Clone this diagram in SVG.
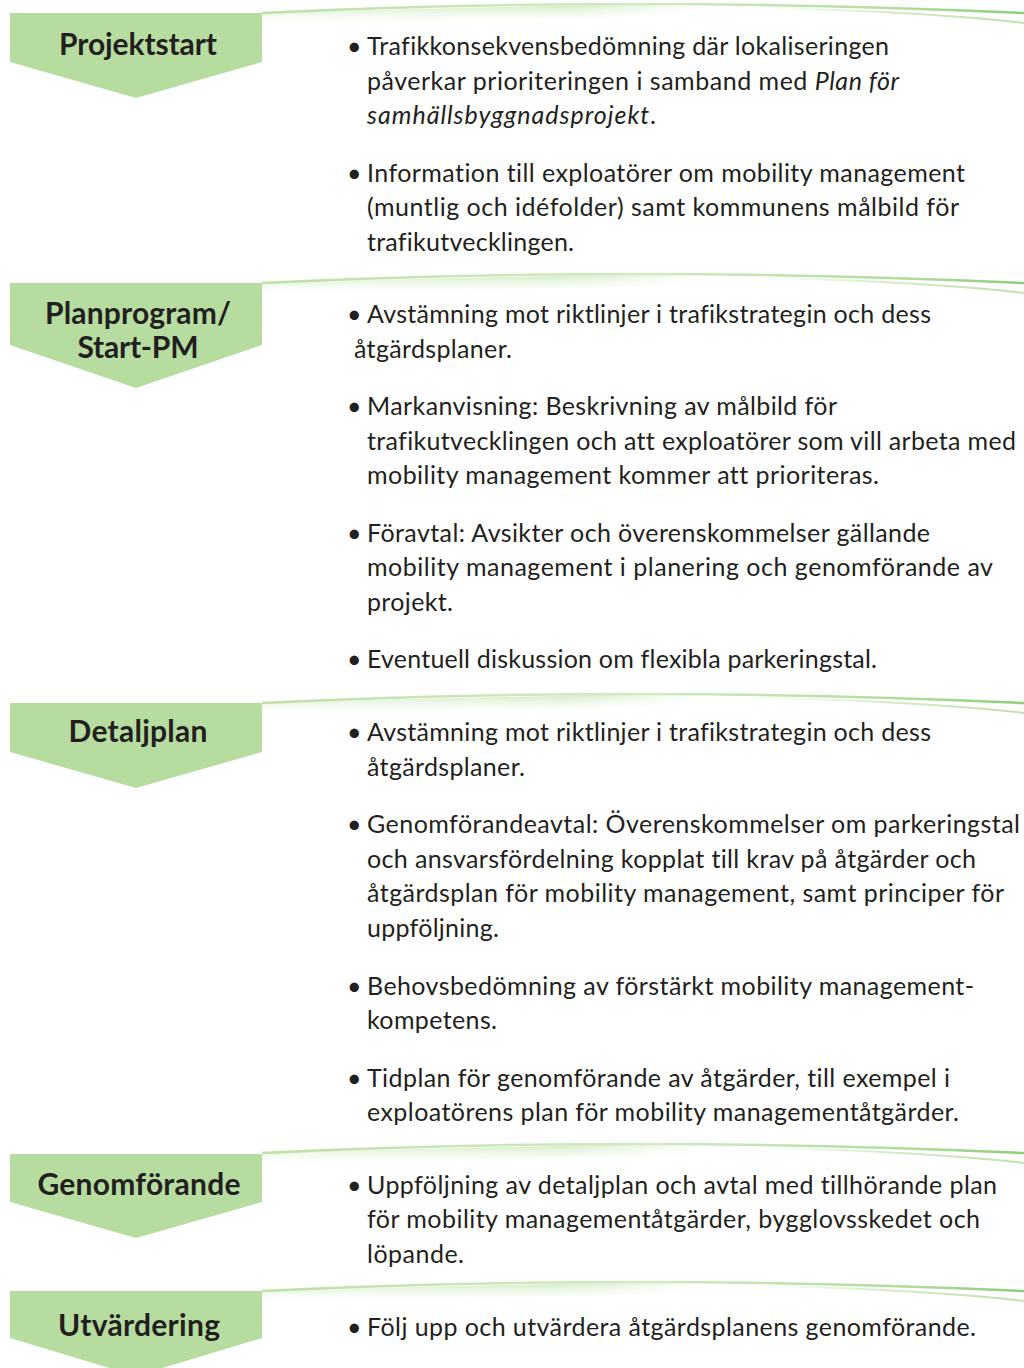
<svg xmlns="http://www.w3.org/2000/svg" xmlns:xlink="http://www.w3.org/1999/xlink" width="1024" height="1368" viewBox="0 0 1024 1368">
<style>
.bg{fill:#ffffff}
.stage{fill:#b6dc9f}
.head{font-family:Lato,"Liberation Sans",sans-serif;font-weight:bold;font-size:30px;fill:#231f20;text-anchor:middle;font-variant-ligatures:none}
.body{font-family:Lato,"Liberation Sans",sans-serif;font-size:25px;fill:#231f20;font-variant-ligatures:none}
.it{font-style:italic}
</style>
<defs>
<linearGradient id="lineGrad" x1="262" y1="0" x2="1024" y2="0" gradientUnits="userSpaceOnUse">
<stop offset="0" stop-color="#bfe0a6"/>
<stop offset="0.5" stop-color="#d3eac3"/>
<stop offset="0.85" stop-color="#b0dc9b"/>
<stop offset="1" stop-color="#8ccf78"/>
</linearGradient>
<linearGradient id="fadeGrad" x1="0" y1="0" x2="0" y2="1">
<stop offset="0" stop-color="#c6e5b1" stop-opacity="0.9"/>
<stop offset="1" stop-color="#ffffff" stop-opacity="0"/>
</linearGradient>
<linearGradient id="maskGrad" x1="262" y1="0" x2="700" y2="0" gradientUnits="userSpaceOnUse">
<stop offset="0" stop-color="#ffffff"/>
<stop offset="0.7" stop-color="#ffffff"/>
<stop offset="1" stop-color="#000000"/>
</linearGradient>
<mask id="fadeMask" maskUnits="userSpaceOnUse" x="250" y="-20" width="500" height="40">
<rect x="250" y="-20" width="500" height="40" fill="url(#maskGrad)"/>
</mask>
<linearGradient id="curveGrad" x1="760" y1="0" x2="1024" y2="0" gradientUnits="userSpaceOnUse">
<stop offset="0" stop-color="#cfe8bf" stop-opacity="0"/>
<stop offset="0.5" stop-color="#cfe8bf" stop-opacity="0.9"/>
<stop offset="1" stop-color="#c0e2ab"/>
</linearGradient>
<g id="sep">
<path d="M262,0 Q480,-6 700,-10 L700,2 Q480,6 262,13 Z" fill="url(#fadeGrad)" mask="url(#fadeMask)"/>
<path d="M262,0 Q640,-18 1024,0" fill="none" stroke="url(#lineGrad)" stroke-width="2.5"/>
<path d="M770,-5 Q930,-1 1024,10" fill="none" stroke="url(#curveGrad)" stroke-width="2"/>
</g>
</defs>
<rect class="bg" x="0" y="0" width="1024" height="1368"/>

<g id="separators">
<use xlink:href="#sep" transform="translate(0,13)"/>
<use xlink:href="#sep" transform="translate(0,283)"/>
<use xlink:href="#sep" transform="translate(0,703)"/>
<use xlink:href="#sep" transform="translate(0,1153)"/>
<use xlink:href="#sep" transform="translate(0,1291)"/>
</g>

<g id="projektstart">
<polygon class="stage" points="10,13 262,13 262,62 136,98 10,62"/>
<text class="head" x="138" y="55" textLength="158">Projektstart</text>
</g>
<g id="planprogram">
<polygon class="stage" points="10,283 262,283 262,345 136,388 10,345"/>
<text class="head" x="138" y="324" textLength="186">Planprogram/</text>
<text class="head" x="138" y="358" textLength="121">Start-PM</text>
</g>
<g id="detaljplan">
<polygon class="stage" points="10,703 262,703 262,752 136,788 10,752"/>
<text class="head" x="138" y="742" textLength="139">Detaljplan</text>
</g>
<g id="genomforande">
<polygon class="stage" points="10,1154 262,1154 262,1202 136,1238 10,1202"/>
<text class="head" x="139" y="1195" textLength="203">Genomförande</text>
</g>
<g id="utvardering">
<polygon class="stage" points="10,1291 262,1291 262,1338 136,1376 10,1338"/>
<text class="head" x="139" y="1336" textLength="162">Utvärdering</text>
</g>

<g id="text-projektstart" class="body">
<text x="347" y="55">•</text>
<text x="367" y="55" textLength="522">Trafikkonsekvensbedömning där lokaliseringen</text>
<text x="367" y="90" textLength="532">påverkar prioriteringen i samband med <tspan class="it">Plan för</tspan></text>
<text x="367" y="124" textLength="289"><tspan class="it">samhällsbyggnadsprojekt</tspan>.</text>
<text x="347" y="182">•</text>
<text x="367" y="182" textLength="598">Information till exploatörer om mobility management</text>
<text x="367" y="216" textLength="592">(muntlig och idéfolder) samt kommunens målbild för</text>
<text x="367" y="251" textLength="207">trafikutvecklingen.</text>
</g>

<g id="text-planprogram" class="body">
<text x="347" y="323">•</text>
<text x="367" y="323" textLength="564">Avstämning mot riktlinjer i trafikstrategin och dess</text>
<text x="354" y="358" textLength="158">åtgärdsplaner.</text>
<text x="347" y="415">•</text>
<text x="367" y="415" textLength="470">Markanvisning: Beskrivning av målbild för</text>
<text x="367" y="450" textLength="649">trafikutvecklingen och att exploatörer som vill arbeta med</text>
<text x="367" y="484" textLength="512">mobility management kommer att prioriteras.</text>
<text x="347" y="542">•</text>
<text x="367" y="542" textLength="563">Föravtal: Avsikter och överenskommelser gällande</text>
<text x="367" y="576" textLength="626">mobility management i planering och genomförande av</text>
<text x="367" y="611" textLength="86">projekt.</text>
<text x="347" y="668">•</text>
<text x="367" y="668" textLength="510">Eventuell diskussion om flexibla parkeringstal.</text>
</g>

<g id="text-detaljplan" class="body">
<text x="347" y="741">•</text>
<text x="367" y="741" textLength="564">Avstämning mot riktlinjer i trafikstrategin och dess</text>
<text x="367" y="776" textLength="158">åtgärdsplaner.</text>
<text x="347" y="833">•</text>
<text x="367" y="833" textLength="653">Genomförandeavtal: Överenskommelser om parkeringstal</text>
<text x="367" y="868" textLength="609">och ansvarsfördelning kopplat till krav på åtgärder och</text>
<text x="367" y="902" textLength="637">åtgärdsplan för mobility management, samt principer för</text>
<text x="367" y="937" textLength="132">uppföljning.</text>
<text x="347" y="995">•</text>
<text x="367" y="995" textLength="607">Behovsbedömning av förstärkt mobility management-</text>
<text x="367" y="1029" textLength="130">kompetens.</text>
<text x="347" y="1087">•</text>
<text x="367" y="1087" textLength="583">Tidplan för genomförande av åtgärder, till exempel i</text>
<text x="367" y="1121" textLength="592">exploatörens plan för mobility managementåtgärder.</text>
</g>

<g id="text-genomforande" class="body">
<text x="347" y="1194">•</text>
<text x="367" y="1194" textLength="630">Uppföljning av detaljplan och avtal med tillhörande plan</text>
<text x="367" y="1228" textLength="613">för mobility managementåtgärder, bygglovsskedet och</text>
<text x="367" y="1263" textLength="97">löpande.</text>
</g>

<g id="text-utvardering" class="body">
<text x="347" y="1336">•</text>
<text x="367" y="1336" textLength="609">Följ upp och utvärdera åtgärdsplanens genomförande.</text>
</g>
</svg>
